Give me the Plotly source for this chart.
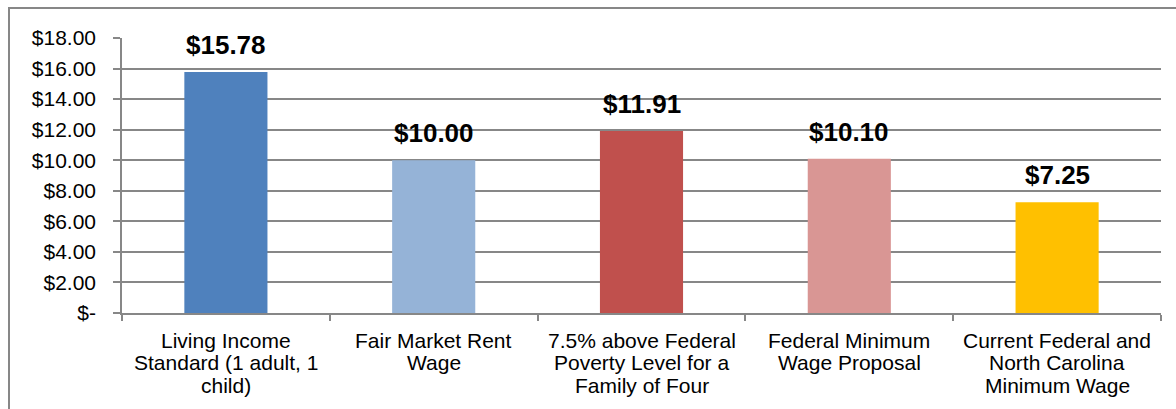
import plotly.graph_objects as go

categories = [
    "Living Income<br>Standard (1 adult, 1<br>child)",
    "Fair Market Rent<br>Wage",
    "7.5% above Federal<br>Poverty Level for a<br>Family of Four",
    "Federal Minimum<br>Wage Proposal",
    "Current Federal and<br>North Carolina<br>Minimum Wage",
]
cat_keys = ["c1", "c2", "c3", "c4", "c5"]
values = [15.78, 10.00, 11.91, 10.10, 7.25]
bar_colors = ["#4F81BD", "#95B3D7", "#C0504D", "#D99694", "#FFC000"]
ytick_vals = [0, 2, 4, 6, 8, 10, 12, 14, 16, 18]
ytick_text = ["$-", "$2.00", "$4.00", "$6.00", "$8.00", "$10.00", "$12.00",
              "$14.00", "$16.00", "$18.00"]

GRID = "#878787"
FONT = "Liberation Sans, Arial, sans-serif"

fig = go.Figure()
fig.add_trace(go.Bar(
    x=cat_keys, y=values, marker=dict(color=bar_colors, line=dict(width=0)),
    width=0.4, hoverinfo="skip",
))

annotations = []
for k, v in zip(cat_keys, values):
    annotations.append(dict(
        x=k, y=v, xref="x", yref="y", text=f"${v:.2f}", showarrow=False,
        yanchor="bottom", yshift=10,
        font=dict(family=FONT, size=26, color="#000000", weight="bold"),
    ))
for k, lab in zip(cat_keys, categories):
    for i, line in enumerate(lab.split("<br>")):
        annotations.append(dict(
            x=k, y=0, xref="x", yref="y", text=line, showarrow=False,
            yanchor="middle", yshift=-(27 + i * 22.5),
            font=dict(family=FONT, size=21, color="#000000"),
        ))

fig.update_layout(
    width=1176, height=409,
    margin=dict(l=122, r=15, t=38, b=96, pad=0),
    paper_bgcolor="white", plot_bgcolor="white",
    showlegend=False,
    font=dict(family=FONT, size=21, color="#000000"),
    annotations=annotations,
    shapes=[dict(
        type="rect", xref="paper", yref="paper",
        x0=(9 - 122) / 1039, x1=1.2, y0=-0.6, y1=(313 - 8) / 275,
        line=dict(color=GRID, width=2), fillcolor="rgba(0,0,0,0)", layer="below",
    )],
    bargap=0.6,
)
fig.update_xaxes(
    type="category", showticklabels=False, showline=True, linecolor=GRID,
    linewidth=1.5, ticks="outside", tickson="boundaries", ticklen=6,
    tickcolor=GRID, tickwidth=1.5, showgrid=False, zeroline=False, fixedrange=True,
)
fig.update_yaxes(
    range=[0, 18], tickvals=ytick_vals, ticktext=ytick_text,
    showgrid=True, gridcolor=GRID, gridwidth=1.5,
    showline=True, linecolor=GRID, linewidth=1.5,
    ticks="outside", ticklen=7, tickcolor=GRID, tickwidth=1.5,
    ticklabelstandoff=13, zeroline=False, fixedrange=True,
    tickfont=dict(family=FONT, size=21, color="#000000"),
)

fig.write_html("out.html")
